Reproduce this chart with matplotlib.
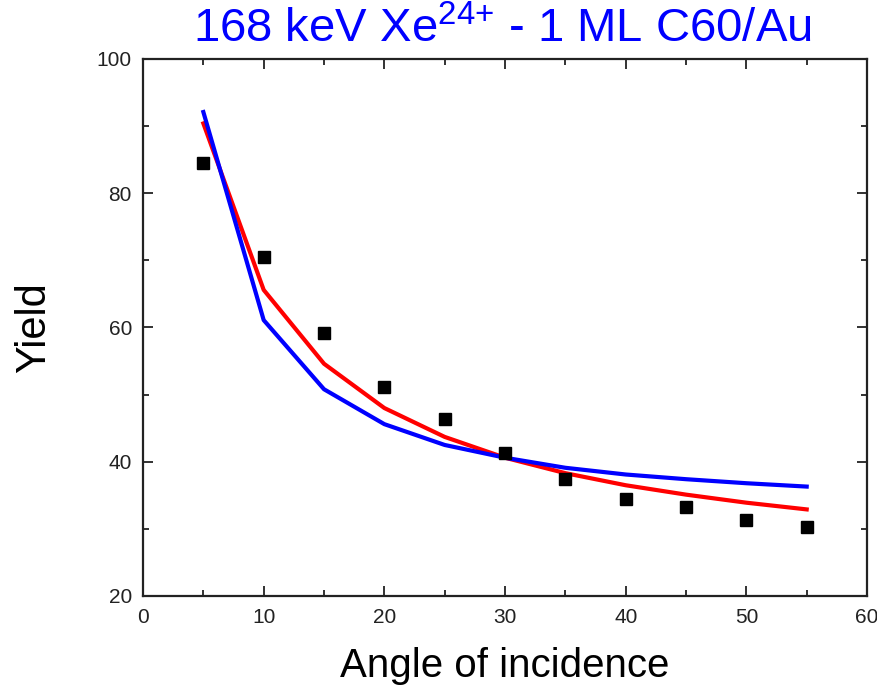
import matplotlib
matplotlib.use("Agg")
import matplotlib.pyplot as plt
from matplotlib.ticker import MultipleLocator

angle = [5, 10, 15, 20, 25, 30, 35, 40, 45, 50, 55]
yield_measured = [84.5, 70.5, 59.2, 51.1, 46.3, 41.3, 37.5, 34.4, 33.2, 31.3, 30.3]
yield_red = [90.4, 65.6, 54.6, 48.0, 43.7, 40.6, 38.3, 36.5, 35.1, 33.9, 32.9]
yield_blue = [92.1, 61.1, 50.8, 45.6, 42.5, 40.6, 39.1, 38.1, 37.4, 36.8, 36.3]

plt.rcParams['font.family'] = ['Liberation Sans', 'DejaVu Sans']
plt.rcParams['mathtext.fontset'] = 'custom'
plt.rcParams['mathtext.rm'] = 'Liberation Sans'
plt.rcParams['mathtext.it'] = 'Liberation Sans'
plt.rcParams['mathtext.default'] = 'regular'

fig = plt.figure(figsize=(8.78, 6.86), dpi=100)
ax = fig.add_axes([0.1629, 0.1312, 0.8246, 0.7828])

ax.plot(angle, yield_red, color='#ff0000', lw=3, zorder=2)
ax.plot(angle, yield_blue, color='#0000ff', lw=3, zorder=3)
ax.plot(angle, yield_measured, 's', color='black', ms=8.8, zorder=4)

ax.set_xlim(0, 60)
ax.set_ylim(20, 100)
ax.xaxis.set_major_locator(MultipleLocator(10))
ax.xaxis.set_minor_locator(MultipleLocator(5))
ax.yaxis.set_major_locator(MultipleLocator(20))
ax.yaxis.set_minor_locator(MultipleLocator(10))
ax.tick_params(which='both', direction='in', top=True, right=True,
               width=1.3, labelsize=15, colors='#222222')
ax.tick_params(which='major', length=7.5)
ax.tick_params(which='minor', length=4.5)
ax.tick_params(axis='x', which='major', pad=9)
ax.tick_params(axis='y', which='major', pad=8)
for s in ax.spines.values():
    s.set_linewidth(1.6)
    s.set_color('#222222')

ax.set_xlabel('Angle of incidence', fontsize=29, labelpad=14)
ax.set_ylabel('Yield', fontsize=30, labelpad=31)
fig.text(0.572, 0.957, r'168 keV Xe$^{24{+}}$ - 1 ML C60/Au', color='#0000ff',
         fontsize=34, ha='center', va='center')

fig.savefig('out.png', dpi=100)
